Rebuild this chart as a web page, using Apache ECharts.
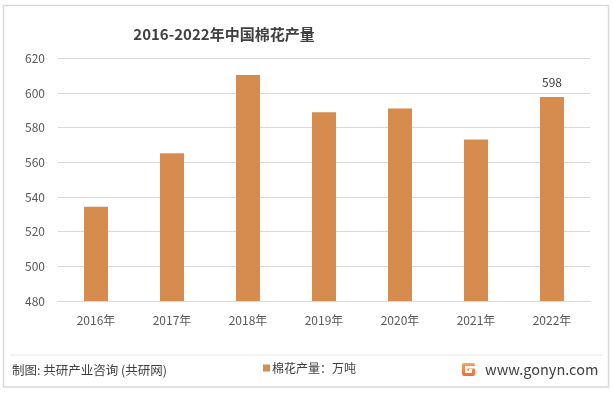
<!DOCTYPE html>
<html>
<head>
<meta charset="utf-8">
<script src="https://cdn.jsdelivr.net/npm/echarts@6/dist/echarts.min.js"></script>
<style>
html,body{margin:0;padding:0;background:#fff;}
#chart{width:613px;height:393px;}
</style>
</head>
<body>
<div id="chart"></div>
<script>
const categories = ['2016年','2017年','2018年','2019年','2020年','2021年','2022年'];
const production = [534.3, 565.3, 610.3, 588.9, 591.1, 573.1, 597.7];
const yTicks = [480, 500, 520, 540, 560, 580, 600, 620];
const titleText = '2016-2022年中国棉花产量';
const seriesName = '棉花产量：万吨';
const sourceText = '制图: 共研产业咨询 (共研网)';
const siteText = 'www.gonyn.com';

const FONT = '"Noto Sans CJK SC", "Noto Sans", sans-serif';
const chart = echarts.init(document.getElementById('chart'), null, {renderer:'canvas'});
const lastIdx = production.length - 1;

chart.setOption({
  animation: false,
  backgroundColor: '#ffffff',
  textStyle: {fontFamily: FONT},
  title: {
    text: titleText,
    left: 219, top: 22, textAlign: 'center',
    textStyle: {fontSize: 15, fontWeight: 'bold', color: '#404040', fontFamily: FONT}
  },
  legend: {
    data: [seriesName],
    left: 258, top: 357,
    itemWidth: 7, itemHeight: 7, itemGap: 4,
    icon: 'rect',
    textStyle: {fontSize: 12, color: '#404040', fontFamily: FONT, padding: [0,0,0,-3]}
  },
  grid: {left: 58, right: 23, top: 58.3, bottom: 92, containLabel: false},
  xAxis: {
    type: 'category',
    data: categories,
    axisLine: {lineStyle: {color: '#d9d9d9', width: 1}},
    axisTick: {show: false},
    axisLabel: {color: '#595959', fontSize: 12, margin: 13, fontFamily: FONT}
  },
  yAxis: {
    type: 'value',
    min: yTicks[0], max: yTicks[yTicks.length-1], interval: 20,
    axisLine: {show: false},
    axisTick: {show: false},
    splitLine: {lineStyle: {color: '#d9d9d9', width: 1}},
    axisLabel: {color: '#595959', fontSize: 12, margin: 13, fontFamily: FONT}
  },
  series: [{
    name: seriesName,
    type: 'bar',
    barWidth: 24,
    itemStyle: {color: '#D68C4F'},
    data: production.map((v, i) => i === lastIdx ? {
      value: v,
      label: {show: true, position: 'top', distance: 9, color: '#404040', fontSize: 12,
        formatter: p => Math.round(p.value)}
    } : v)
  }],
  graphic: [
    {type: 'rect', shape: {x: 3.5, y: 5.5, width: 605, height: 381.5}, style: {fill: 'none', stroke: '#d9d9d9', lineWidth: 1.5}, silent: true, z: -1},
    {type: 'line', shape: {x1: 10, y1: 355, x2: 603, y2: 355}, style: {stroke: '#e6e6e6', lineWidth: 1}},
    {type: 'text', left: 12, top: 364, style: {text: sourceText, fontSize: 12.5, fill: '#404040', fontFamily: FONT}},
    {type: 'text', left: 485, top: 362, style: {text: siteText, fontSize: 14.5, fill: '#404040', fontFamily: FONT}},
    {type: 'group', left: 462, top: 363, children: [
      {type: 'rect', shape: {x: 0, y: 0, width: 13, height: 13, r: 2},
        style: {fill: new echarts.graphic.LinearGradient(0, 0, 0, 1, [{offset: 0, color: '#F7A35A'}, {offset: 1, color: '#F06A3A'}])}},
      {type: 'rect', shape: {x: 3, y: 3, width: 10, height: 2.5}, style: {fill: '#ffffff'}},
      {type: 'rect', shape: {x: 3, y: 3, width: 2.5, height: 7}, style: {fill: '#ffffff'}},
      {type: 'rect', shape: {x: 3, y: 8, width: 7, height: 2}, style: {fill: '#ffffff'}},
      {type: 'rect', shape: {x: 7, y: 6, width: 3, height: 3}, style: {fill: '#ffffff'}}
    ]}
  ]
});
</script>
</body>
</html>
